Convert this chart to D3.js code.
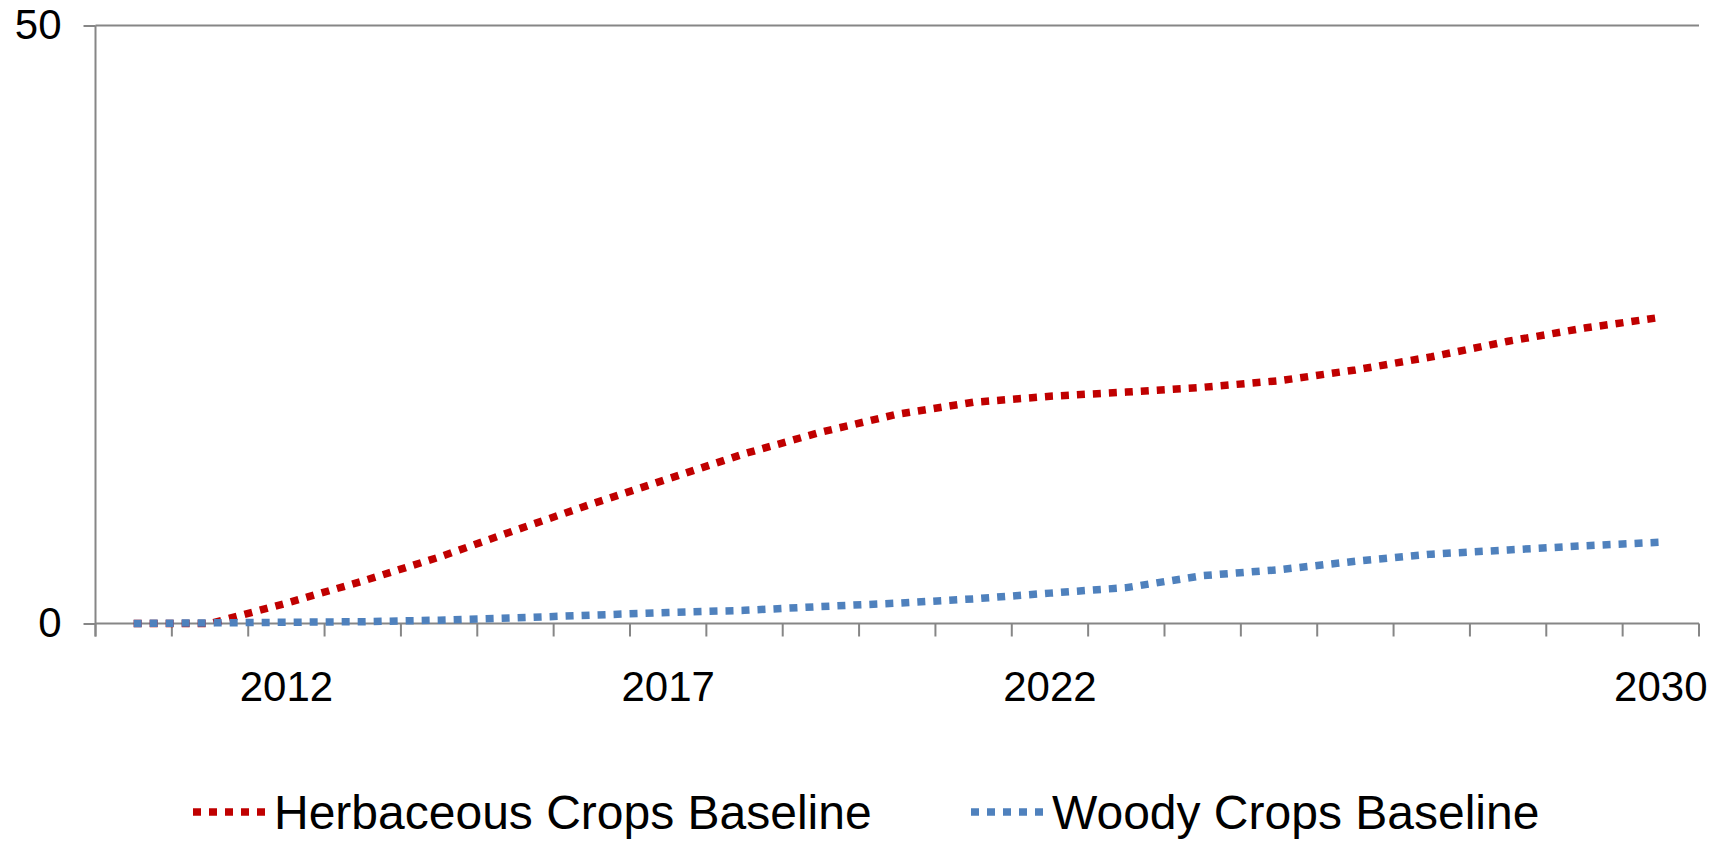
<!DOCTYPE html>
<html>
<head>
<meta charset="utf-8">
<script src="https://cdn.jsdelivr.net/npm/d3@7"></script>
<style>
  body { margin: 0; background: #fff; }
  text { font-family: "Liberation Sans", Arial, sans-serif; fill: #000; }
</style>
</head>
<body>
<svg id="chart" width="1722" height="841"></svg>
<script>
// data
const years = [2010, 2011, 2012, 2013, 2014, 2015, 2016, 2017, 2018, 2019, 2020,
  2021, 2022, 2023, 2024, 2025, 2026, 2027, 2028, 2029, 2030];
const tickLabels = [2012, 2017, 2022, 2030];
const yTicks = [0, 50];
const herbaceous = [0, 0, 1.7, 3.55, 5.55, 7.8, 10.0, 12.1, 14.2, 16.0, 17.5,
  18.5, 19.0, 19.35, 19.75, 20.3, 21.2, 22.3, 23.6, 24.7, 25.6];
const woody = [0, 0.05, 0.1, 0.15, 0.28, 0.47, 0.7, 0.92, 1.1, 1.42, 1.7,
  2.06, 2.54, 3.0, 4.0, 4.5, 5.2, 5.8, 6.15, 6.5, 6.8];
const seriesNames = ["Herbaceous Crops Baseline", "Woody Crops Baseline"];
const seriesColors = ["#C00000", "#4F81BD"];

const svg = d3.select("svg#chart");
const plotLeft = 95.5;
const plotRight = 1699;
const plotTop = 25.5;
const plotBottom = 623.5;
const axisColor = "#868686";

const xScale = d3.scaleBand().domain(years).range([plotLeft, plotRight]).padding(0);
const yScale = d3.scaleLinear().domain([0, 50]).range([plotBottom, plotTop]);
const xMid = (yr) => xScale(yr) + xScale.bandwidth() / 2;

// gridline at the top value
svg.append("g")
  .selectAll("line")
  .data(yTicks.filter((d) => d > 0))
  .join("line")
  .attr("x1", plotLeft)
  .attr("x2", plotRight)
  .attr("y1", (d) => yScale(d))
  .attr("y2", (d) => yScale(d))
  .attr("stroke", axisColor)
  .attr("stroke-width", 2);

// y axis
const yAxis = d3.axisLeft(yScale).tickValues(yTicks).tickSize(12).tickPadding(22);
const yG = svg.append("g")
  .attr("transform", `translate(${plotLeft},0)`)
  .call(yAxis);
yG.select(".domain").attr("stroke", axisColor).attr("stroke-width", 2)
  .attr("d", `M0,${plotTop}V${plotBottom + 13}`);
yG.selectAll(".tick line").attr("stroke", axisColor).attr("stroke-width", 2);
yG.selectAll(".tick text")
  .style("font-size", "42px")
  .style("font-family", "'Liberation Sans', Arial, sans-serif")
  .attr("fill", "#000");

// x axis: ticks between categories, labels only for some years
const boundaries = years.map((d) => xScale(d)).concat([plotRight]);
const xG = svg.append("g");
xG.append("line")
  .attr("x1", plotLeft)
  .attr("x2", plotRight)
  .attr("y1", plotBottom)
  .attr("y2", plotBottom)
  .attr("stroke", axisColor)
  .attr("stroke-width", 2);
xG.selectAll("line.xtick")
  .data(boundaries)
  .join("line")
  .attr("class", "xtick")
  .attr("x1", (d) => d)
  .attr("x2", (d) => d)
  .attr("y1", plotBottom)
  .attr("y2", plotBottom + 13)
  .attr("stroke", axisColor)
  .attr("stroke-width", 2);
xG.selectAll("text")
  .data(tickLabels)
  .join("text")
  .attr("x", (d) => xMid(d))
  .attr("y", 701)
  .attr("text-anchor", "middle")
  .style("font-size", "42px")
  .text((d) => d);

// lines
const lineGen = d3.line()
  .x((d, i) => xMid(years[i]))
  .y((d) => yScale(d));

[herbaceous, woody].forEach((values, k) => {
  svg.append("path")
    .datum(values)
    .attr("fill", "none")
    .attr("stroke", seriesColors[k])
    .attr("stroke-width", 7.5)
    .attr("stroke-dasharray", "8,8")
    .attr("stroke-linecap", "butt")
    .attr("stroke-linejoin", "round")
    .attr("d", lineGen);
});

// legend
const legendX = [193, 971];
const legend = svg.selectAll(".legend")
  .data(seriesNames)
  .join("g")
  .attr("class", "legend")
  .attr("transform", (d, i) => `translate(${legendX[i]},812)`);

legend.append("line")
  .attr("x1", 0)
  .attr("x2", 75)
  .attr("y1", 0)
  .attr("y2", 0)
  .attr("stroke", (d, i) => seriesColors[i])
  .attr("stroke-width", 7.5)
  .attr("stroke-dasharray", "8,8");

legend.append("text")
  .attr("x", 81)
  .attr("y", 17)
  .style("font-size", "48px")
  .text((d) => d);
</script>
</body>
</html>
